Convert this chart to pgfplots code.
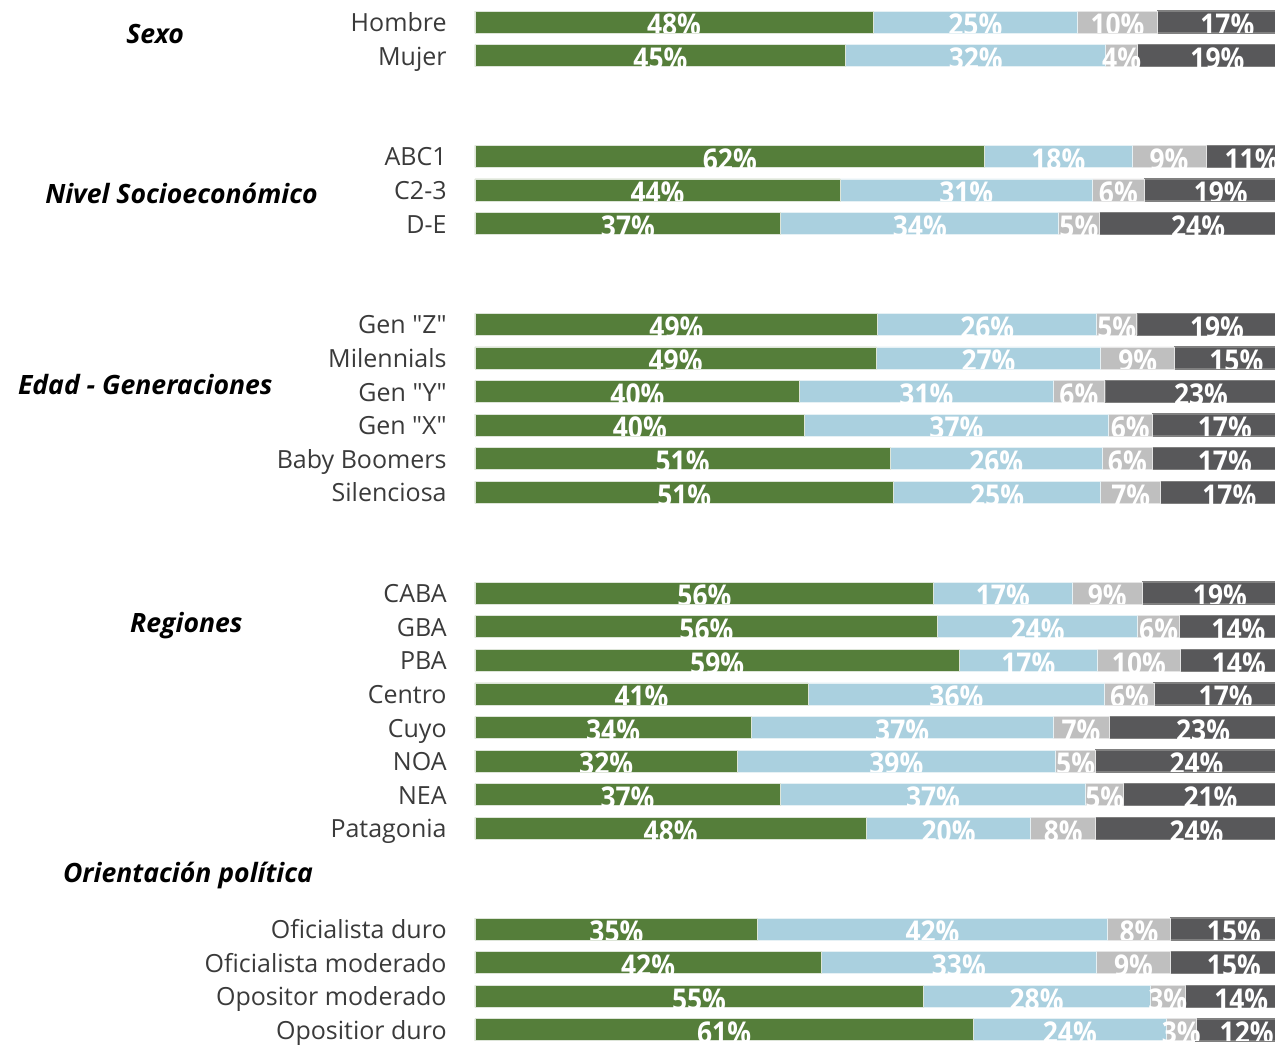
\documentclass[border=0pt]{standalone}
\usepackage{pgfplots}
\usepackage{pgfplotstable}
\pgfplotsset{compat=1.18}
\usepackage{fontspec}
\setmainfont{Open Sans}
\newfontfamily\barfont{Open Sans}
\definecolor{cg}{HTML}{557E3A}
\definecolor{cb}{HTML}{AAD0DF}
\definecolor{cl}{HTML}{BFBFBF}
\definecolor{cd}{HTML}{58585A}
\definecolor{ctext}{HTML}{3A3A3A}

% g b l d: segment lengths (%), G B L D: printed labels
\pgfplotstableread{
y g b l d G B L D
0 48.4 24.9 9.7 17.0 48 25 10 17
1 45.1 31.6 3.9 19.4 45 32 4 19
4 62.0 17.9 9.0 11.1 62 18 9 11
5 44.4 30.7 6.3 18.6 44 31 6 19
6 37.2 33.8 4.9 24.1 37 34 5 24
9 49.0 26.6 4.9 19.5 49 26 5 19
10 48.8 27.3 9.0 15.0 49 27 9 15
11 39.5 30.8 6.3 23.4 40 31 6 23
12 40.1 36.9 5.4 17.6 40 37 6 17
13 50.5 25.8 6.1 17.6 51 26 6 17
14 50.9 25.2 7.3 16.7 51 25 7 17
17 55.8 16.8 8.6 18.8 56 17 9 19
18 56.3 24.3 5.1 14.3 56 24 6 14
19 58.9 16.8 10.1 14.2 59 17 10 14
20 40.5 36.1 6.0 17.4 41 36 6 17
21 33.6 36.7 6.8 22.9 34 37 7 23
22 31.9 38.7 4.9 24.5 32 39 5 24
23 37.1 37.2 4.6 21.1 37 37 5 21
24 47.6 20.0 7.9 24.5 48 20 8 24
27 34.4 42.5 7.7 15.4 35 42 8 15
28 42.1 33.5 9.0 15.4 42 33 9 15
29 54.5 27.6 4.3 13.6 55 28 3 14
30 60.6 23.5 3.6 12.3 61 24 3 12
}\data

\pgfplotsset{
  base/.style={
    scale only axis, width=400pt, height=522.5pt,
    xmin=0, xmax=97.3, ymin=-0.655, ymax=30.45,
    y dir=reverse,
    axis line style={draw=none},
    major tick length=0pt,
    xtick=\empty,
  },
  lbl/.style={only marks, mark=*, mark size=0pt, mark options={draw=none,fill=none},
    point meta=explicit,
    /pgf/number format/assume math mode=true,
    nodes near coords={},
    every node near coord/.style={anchor=center, inner sep=0pt, outer sep=0pt,
      minimum width=70pt, minimum height=10.8pt,
      path picture={\node[text=white, inner sep=0pt, yshift=-1.5pt,
          font=\barfont\fontsize{15pt}{15pt}\selectfont\bfseries]
          at (path picture bounding box.center)
          {\scalebox{0.88}[1]{\pgfmathprintnumber{\pgfplotspointmeta}\%}};}}},
}
\newcommand\ttl{\bfseries\itshape\fontsize{13.3pt}{13.3pt}\selectfont}

\begin{document}
\begin{tikzpicture}
\begin{axis}[base, name=ax,
  xbar stacked, bar width=11pt,
  ytick={0,1,4,5,6,9,10,11,12,13,14,17,18,19,20,21,22,23,24,27,28,29,30},
  yticklabels={Hombre,Mujer,ABC1,C2-3,D-E,Gen \textquotedbl Z\textquotedbl,Milennials,Gen \textquotedbl Y\textquotedbl,Gen \textquotedbl X\textquotedbl,Baby Boomers,Silenciosa,CABA,GBA,PBA,Centro,Cuyo,NOA,NEA,Patagonia,Oficialista duro,Oficialista moderado,Opositor moderado,Opositior duro},
  yticklabel style={font=\fontsize{12.5pt}{13pt}\selectfont, text=ctext, inner sep=0pt,
    text height=0.76em, text depth=0pt, anchor=east, xshift=-14pt, yshift=-1pt},
  clip=false,
]
\addplot[fill=cg, draw=white!80!cg, line width=0.4pt] table[x=g,y=y]{\data};
\addplot[fill=cb, draw=white!70!cb, line width=0.4pt] table[x=b,y=y]{\data};
\addplot[fill=cl, draw=white!60!cl, line width=0.4pt] table[x=l,y=y]{\data};
\addplot[fill=cd, draw=gray, line width=0.7pt] table[x=d,y=y]{\data};

\node[font=\ttl] at (axis cs:-38.9,0.36) {Sexo};
\node[font=\ttl] at (axis cs:-35.7,5.09) {Nivel Socioeconómico};
\node[font=\ttl] at (axis cs:-40.1,10.8) {Edad - Generaciones};
\node[font=\ttl] at (axis cs:-35.1,17.98) {Regiones};
\node[font=\ttl] at (axis cs:-34.9,25.39) {Orientación política};
\end{axis}
\begin{axis}[base, ytick=\empty, clip=false]
\addplot[lbl] table[x expr=\thisrow{g}/2, y=y, meta=G]{\data};
\addplot[lbl] table[x expr=\thisrow{g}+\thisrow{b}/2, y=y, meta=B]{\data};
\addplot[lbl] table[x expr=\thisrow{g}+\thisrow{b}+\thisrow{l}/2, y=y, meta=L]{\data};
\addplot[lbl] table[x expr=\thisrow{g}+\thisrow{b}+\thisrow{l}+\thisrow{d}/2, y=y, meta=D]{\data};
\end{axis}
\pgfresetboundingbox
\path[use as bounding box] ([xshift=-237.5pt]ax.south west) rectangle (ax.north east);
\end{tikzpicture}
\end{document}
